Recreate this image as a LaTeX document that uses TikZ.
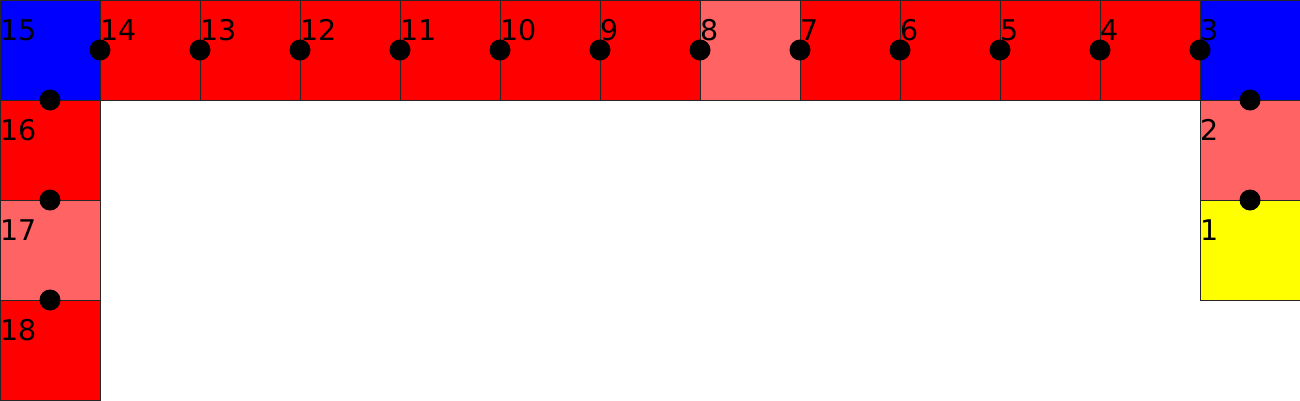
\documentclass[tikz,border=0pt]{standalone}
\usepackage{fontspec}
\setmainfont{DejaVu Sans}
\definecolor{cred}{HTML}{FF0000}
\definecolor{clight}{HTML}{FF6363}
\definecolor{cblue}{HTML}{0000FF}
\definecolor{cyel}{HTML}{FFFF00}
\tikzset{
  cell/.style={draw=black!85, line width=0.9pt, minimum size=100pt, inner sep=0pt, outer sep=0pt, anchor=north west},
  lbl/.style={anchor=base west, inner sep=0pt, font=\fontsize{28.5}{34}\selectfont},
  dot/.style={circle, fill=black, minimum size=21pt, inner sep=0pt}
}
\begin{document}
\begin{tikzpicture}[x=1pt,y=-1pt]
\useasboundingbox (0,0) rectangle (1300,400);
% top row
\node[cell, fill=cblue] (c15) at (0,0) {};
\foreach \n/\x in {14/100,13/200,12/300,11/400,10/500,9/600,7/800,6/900,5/1000,4/1100}{
  \node[cell, fill=cred] (c\n) at (\x,0) {};
}
\node[cell, fill=clight] (c8) at (700,0) {};
\node[cell, fill=cblue] (c3) at (1200,0) {};
% right column
\node[cell, fill=clight] (c2) at (1200,100) {};
\node[cell, fill=cyel] (c1) at (1200,200) {};
% left column
\node[cell, fill=cred] (c16) at (0,100) {};
\node[cell, fill=clight] (c17) at (0,200) {};
\node[cell, fill=cred] (c18) at (0,300) {};
% labels
\foreach \n/\x/\y in {15/0/0,14/100/0,13/200/0,12/300/0,11/400/0,10/500/0,9/600/0,8/700/0,7/800/0,6/900/0,5/1000/0,4/1100/0,3/1200/0,2/1200/100,1/1200/200,16/0/100,17/0/200,18/0/300}{
  \node[lbl] (l\n) at (\x,\y+40) {\n};
}
% dots
\foreach \x in {100,200,...,1200}{
  \node[dot] (dt\x) at (\x,50) {};
}
\node[dot] (dl1) at (50,100) {};
\node[dot] (dl2) at (50,200) {};
\node[dot] (dl3) at (50,300) {};
\node[dot] (dr1) at (1250,100) {};
\node[dot] (dr2) at (1250,200) {};
\end{tikzpicture}
\end{document}
